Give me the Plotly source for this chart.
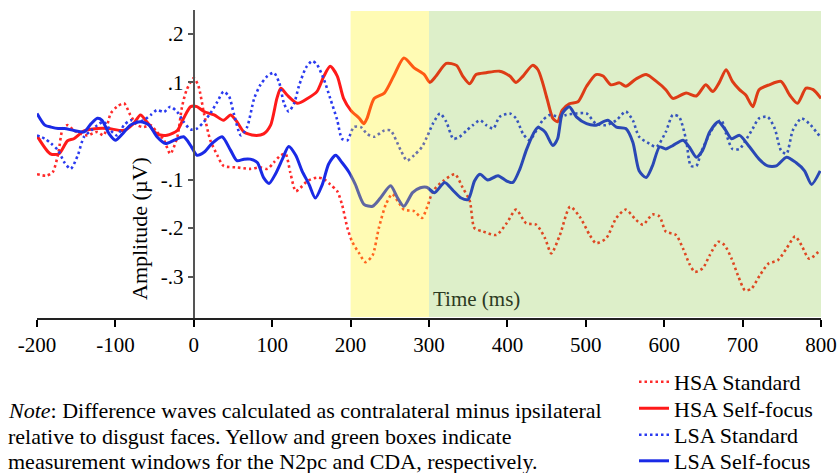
import plotly.graph_objects as go

# Difference waves (contralateral minus ipsilateral), amplitude in µV, time in ms
hsa_std_t = [-200, -188, -180, -173, -167, -161, -153, -144, -136, -123, -115, -106, -98, -89, -81, -72, -64, -55, -47, -38, -30, -21, -15, -9, 0, 6, 13, 21, 30, 38, 55, 72, 85, 94, 102, 111, 117, 123, 130, 136, 145, 157, 166, 174, 183, 189, 196, 202, 211, 219, 228, 236, 245, 253, 260, 268, 281, 291, 298, 305, 318, 333, 343, 352, 358, 369, 386, 399, 411, 424, 437, 448, 456, 467, 480, 492, 505, 513, 526, 539, 551, 564, 573, 585, 594, 602, 615, 624, 632, 639, 649, 658, 669, 677, 686, 694, 703, 711, 722, 733, 745, 756, 767, 775, 785, 799]
hsa_std_v = [-0.089, -0.092, -0.085, -0.047, 0.005, 0.012, 0.001, -0.006, -0.009, -0.002, -0.009, 0.036, 0.05, 0.057, 0.033, 0.012, 0.008, 0.012, -0.002, -0.019, -0.047, -0.012, 0.05, 0.085, 0.109, 0.092, 0.036, -0.019, -0.05, -0.072, -0.075, -0.078, -0.075, -0.078, -0.065, -0.05, -0.047, -0.085, -0.124, -0.117, -0.103, -0.096, -0.099, -0.11, -0.124, -0.151, -0.2, -0.228, -0.252, -0.27, -0.256, -0.2, -0.151, -0.13, -0.144, -0.162, -0.165, -0.179, -0.155, -0.124, -0.103, -0.089, -0.117, -0.144, -0.2, -0.207, -0.214, -0.19, -0.162, -0.19, -0.193, -0.221, -0.252, -0.214, -0.156, -0.176, -0.214, -0.231, -0.221, -0.179, -0.162, -0.183, -0.193, -0.172, -0.176, -0.207, -0.214, -0.242, -0.273, -0.29, -0.283, -0.256, -0.228, -0.235, -0.263, -0.297, -0.328, -0.325, -0.297, -0.273, -0.266, -0.242, -0.217, -0.235, -0.263, -0.245]

hsa_self_t = [-200, -183, -172, -161, -153, -140, -123, -109, -89, -77, -68, -60, -47, -34, -21, -13, -4, 4, 13, 26, 38, 47, 55, 64, 77, 89, 98, 106, 111, 119, 132, 145, 157, 166, 174, 183, 191, 200, 211, 217, 221, 230, 243, 255, 268, 281, 294, 301, 309, 322, 335, 343, 352, 360, 373, 390, 403, 411, 420, 432, 439, 445, 451, 458, 464, 470, 479, 490, 501, 513, 522, 532, 543, 551, 564, 577, 590, 602, 611, 628, 641, 653, 662, 670, 679, 687, 696, 704, 713, 721, 734, 749, 760, 770, 781, 790, 800]
hsa_self_v = [-0.01, -0.047, -0.047, -0.02, -0.016, 0.0, 0.005, 0.005, 0.001, 0.015, 0.033, 0.019, -0.006, -0.009, 0.001, 0.026, 0.05, 0.05, 0.04, 0.033, 0.022, 0.033, 0.019, -0.002, -0.009, -0.006, 0.012, 0.067, 0.088, 0.074, 0.057, 0.067, 0.081, 0.113, 0.133, 0.113, 0.067, 0.043, 0.026, 0.015, 0.026, 0.067, 0.078, 0.113, 0.15, 0.13, 0.116, 0.1, 0.113, 0.139, 0.135, 0.113, 0.097, 0.116, 0.12, 0.123, 0.113, 0.1, 0.113, 0.135, 0.126, 0.099, 0.064, 0.026, 0.019, 0.043, 0.056, 0.06, 0.092, 0.116, 0.113, 0.095, 0.099, 0.092, 0.107, 0.116, 0.102, 0.085, 0.067, 0.078, 0.072, 0.095, 0.081, 0.099, 0.126, 0.102, 0.085, 0.074, 0.05, 0.085, 0.095, 0.102, 0.074, 0.057, 0.088, 0.085, 0.067]

lsa_std_t = [-200, -190, -182, -173, -165, -157, -148, -140, -131, -123, -115, -106, -98, -89, -81, -72, -64, -55, -47, -38, -30, -21, -13, -4, 4, 13, 21, 30, 38, 45, 51, 60, 68, 77, 85, 94, 102, 109, 115, 121, 128, 134, 143, 151, 157, 166, 174, 183, 189, 196, 204, 213, 221, 230, 243, 251, 264, 272, 281, 291, 298, 305, 314, 322, 331, 339, 348, 356, 365, 373, 382, 390, 403, 411, 420, 428, 437, 445, 454, 467, 475, 488, 501, 513, 526, 539, 551, 560, 568, 581, 590, 602, 611, 619, 628, 634, 641, 647, 658, 666, 673, 679, 687, 696, 704, 713, 721, 732, 741, 749, 756, 764, 775, 785, 799]
lsa_std_v = [-0.009, -0.016, -0.026, -0.04, -0.065, -0.078, -0.05, -0.012, 0.001, 0.012, 0.019, 0.001, -0.009, 0.012, 0.022, 0.019, 0.022, 0.033, 0.043, 0.039, 0.05, 0.039, 0.019, 0.003, 0.005, 0.019, 0.036, 0.06, 0.081, 0.071, 0.036, -0.009, 0.008, 0.067, 0.095, 0.113, 0.12, 0.099, 0.057, 0.04, 0.057, 0.092, 0.13, 0.144, 0.137, 0.106, 0.067, 0.022, -0.016, -0.019, 0.008, 0.008, -0.006, -0.012, 0.001, 0.001, -0.04, -0.061, -0.05, -0.033, -0.01, 0.015, 0.036, 0.019, -0.016, -0.012, 0.001, 0.012, 0.022, 0.012, 0.005, 0.029, 0.036, 0.026, -0.006, -0.019, 0.001, 0.022, 0.033, 0.029, 0.033, 0.036, 0.036, 0.015, 0.012, 0.022, 0.04, 0.022, -0.012, -0.026, -0.033, -0.002, 0.033, 0.029, -0.019, -0.072, -0.072, -0.044, -0.006, 0.015, 0.022, -0.006, -0.037, -0.037, -0.019, 0.005, 0.026, 0.029, 0.005, -0.04, -0.047, 0.001, 0.026, 0.015, -0.012]

lsa_self_t = [-200, -190, -182, -173, -165, -153, -140, -131, -123, -117, -108, -100, -91, -81, -68, -57, -47, -36, -25, -13, -4, 4, 13, 23, 36, 47, 55, 64, 72, 81, 89, 96, 104, 113, 121, 130, 138, 147, 155, 164, 172, 181, 189, 198, 206, 217, 228, 238, 251, 260, 268, 279, 289, 297, 307, 320, 331, 341, 350, 358, 365, 375, 388, 399, 407, 416, 424, 433, 439, 448, 458, 464, 470, 479, 488, 501, 513, 528, 539, 551, 560, 568, 577, 585, 594, 602, 611, 624, 632, 641, 649, 658, 669, 677, 686, 696, 709, 721, 732, 743, 756, 768, 779, 788, 799]
lsa_self_v = [0.036, 0.012, 0.008, 0.005, 0.005, 0.001, -0.002, 0.015, 0.026, 0.022, -0.006, -0.019, -0.006, 0.012, 0.019, 0.012, -0.012, -0.026, -0.019, -0.012, -0.03, -0.05, -0.044, -0.026, -0.012, -0.04, -0.061, -0.058, -0.058, -0.065, -0.096, -0.108, -0.089, -0.058, -0.032, -0.05, -0.082, -0.11, -0.138, -0.11, -0.068, -0.05, -0.065, -0.085, -0.11, -0.151, -0.155, -0.138, -0.113, -0.138, -0.155, -0.127, -0.117, -0.116, -0.127, -0.106, -0.123, -0.138, -0.141, -0.103, -0.089, -0.101, -0.092, -0.103, -0.106, -0.078, -0.04, -0.006, 0.007, -0.002, -0.03, -0.016, 0.036, 0.05, 0.029, 0.015, 0.012, 0.022, 0.008, 0.005, -0.023, -0.082, -0.096, -0.072, -0.033, -0.037, -0.03, -0.019, -0.033, -0.054, -0.04, -0.002, 0.019, 0.005, -0.016, -0.009, -0.033, -0.058, -0.072, -0.072, -0.054, -0.065, -0.082, -0.11, -0.082]

x_ticks = [-200, -100, 0, 100, 200, 300, 400, 500, 600, 700, 800]
x_tick_text = ["-200", "-100", "0", "100", "200", "300", "400", "500", "600", "700", "800"]
y_ticks = [-0.3, -0.2, -0.1, 0.1, 0.2]
y_tick_text = ["-.3", "-.2", "-.1", ".1", ".2"]

note_lines = [
    "<i>Note</i>: Difference waves calculated as contralateral minus ipsilateral",
    "relative to disgust faces. Yellow and green boxes indicate",
    "measurement windows for the N2pc and CDA, respectively.",
]

# measurement windows: N2pc (yellow) and CDA (green), laid over the waves
windows = [(200, 300, "rgba(255,242,8,0.30)"), (300, 800, "rgba(100,182,10,0.22)")]

X_RANGE = [-200, 800]
Y_RANGE = [-0.385, 0.249]

RED = "#ff1a1a"
RED_DOT = "#ff2a2a"
BLUE = "#1a2ae6"
BLUE_DOT = "#2a3af0"
FONT = "Liberation Serif"

# plot box in pixels: left 37, right 821, top 10, bottom 318
L, R, T, B = 37, 821, 10, 318


def px_x(px):
    return (px - L) / (R - L)


def px_y(py):
    return (B - py) / (B - T)


fig = go.Figure()
series = [
    ("HSA Standard", hsa_std_t, hsa_std_v, RED_DOT, "2.5px,3px", 2.6),
    ("HSA Self-focus", hsa_self_t, hsa_self_v, RED, "solid", 3),
    ("LSA Standard", lsa_std_t, lsa_std_v, BLUE_DOT, "2.5px,3px", 2.6),
    ("LSA Self-focus", lsa_self_t, lsa_self_v, BLUE, "solid", 3),
]
legend_ids = ["legend", "legend2", "legend3", "legend4"]
legend_rows = [382, 408.5, 435, 461]
for (name, t, v, color, dash, width), lid in zip(series, legend_ids):
    fig.add_trace(go.Scatter(
        x=t, y=v, mode="lines", name=name, legend=lid,
        line=dict(color=color, width=width, dash=dash, shape="spline", smoothing=0.7),
    ))

for x0, x1, fill in windows:
    fig.add_shape(type="rect", xref="x", yref="paper", x0=x0, x1=x1, y0=0.003, y1=0.997,
                  fillcolor=fill, line=dict(width=0), layer="above")

zero_pos = (0 - Y_RANGE[0]) / (Y_RANGE[1] - Y_RANGE[0])
yaxis_pos = (0 - X_RANGE[0]) / (X_RANGE[1] - X_RANGE[0])

legend_style = {}
for lid, row in zip(legend_ids, legend_rows):
    legend_style[lid] = dict(
        x=px_x(634), xanchor="left", y=px_y(row), yanchor="middle",
        font=dict(family=FONT, size=22, color="black"),
        bgcolor="rgba(0,0,0,0)", itemwidth=30, borderwidth=0,
    )

fig.update_layout(
    width=840, height=473,
    margin=dict(l=L, r=840 - R, t=T, b=473 - B, autoexpand=False),
    paper_bgcolor="white", plot_bgcolor="white",
    font=dict(family=FONT, size=21, color="black"),
    showlegend=True,
    xaxis=dict(
        range=X_RANGE, tickvals=x_ticks, ticktext=x_tick_text, ticks="outside", ticklen=7,
        tickwidth=1.5, tickcolor="black", showline=True, linecolor="#222222", linewidth=2,
        showgrid=False, zeroline=False, tickfont=dict(family=FONT, size=21, color="black"),
    ),
    xaxis2=dict(
        range=X_RANGE, overlaying="x", anchor="free", position=zero_pos, side="bottom",
        tickvals=x_ticks, ticks="outside", ticklen=5, tickwidth=1.5, tickcolor="#555555",
        showline=True, linecolor="#555555", linewidth=2, showticklabels=False,
        showgrid=False, zeroline=False,
    ),
    yaxis=dict(
        range=Y_RANGE, anchor="free", position=yaxis_pos, tickvals=y_ticks, ticktext=y_tick_text,
        ticks="outside", ticklen=5, tickwidth=1.5, tickcolor="#555555",
        showline=True, linecolor="#555555", linewidth=2,
        showgrid=False, zeroline=False, tickfont=dict(family=FONT, size=21, color="black"),
    ),
    **legend_style,
)

fig.add_annotation(text="Amplitude (µV)", xref="paper", yref="paper",
                   x=px_x(139), y=px_y(229), xanchor="center", yanchor="middle",
                   textangle=-90, showarrow=False,
                   font=dict(family=FONT, size=22, color="black"))
fig.add_annotation(text="Time (ms)", xref="paper", yref="paper",
                   x=px_x(477), y=px_y(299), xanchor="center", yanchor="middle",
                   showarrow=False, font=dict(family=FONT, size=21, color="#2c3a22"))

for line, row in zip(note_lines, [410.5, 436, 461.5]):
    fig.add_annotation(
        text=line, xref="paper", yref="paper", x=px_x(6), y=px_y(row),
        xanchor="left", yanchor="middle", align="left", showarrow=False,
        font=dict(family=FONT, size=22, color="black"))

fig.write_html("out.html")
